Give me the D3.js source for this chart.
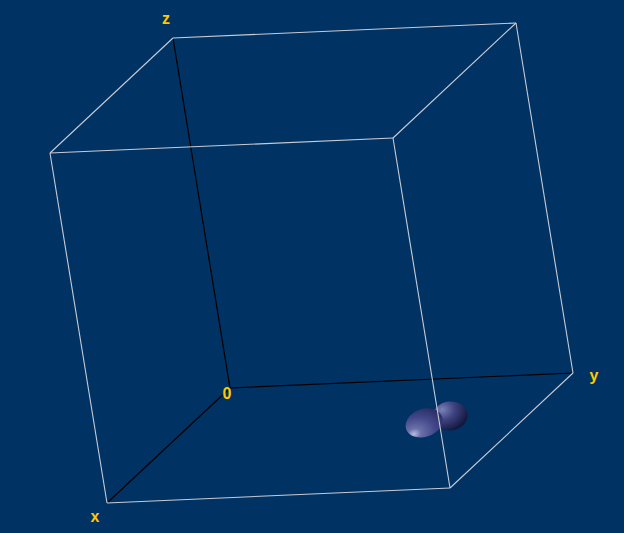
<!DOCTYPE html>
<html><head><meta charset="utf-8">
<script src="https://cdn.jsdelivr.net/npm/d3@7"></script>
<style>html,body{margin:0;padding:0;background:#003264;overflow:hidden}</style>
</head><body>
<svg id="c" width="624" height="533"></svg>
<script>
// Cube corners in data space (unit box), edges, axis labels, and the isosurface blob lobes
const corners = {
  O:[0,0,0], X:[1,0,0], Y:[0,1,0], Z:[0,0,1],
  XY:[1,1,0], XZ:[1,0,1], YZ:[0,1,1], XYZ:[1,1,1]
};
const axisEdges = [["O","X"],["O","Y"],["O","Z"]];
const boxEdges = [["X","XY"],["X","XZ"],["Y","XY"],["Y","YZ"],["Z","XZ"],["Z","YZ"],
                  ["XY","XYZ"],["XZ","XYZ"],["YZ","XYZ"]];
const axisLabels = [
  {text:"0", at:"O", dx:-3, dy:11},
  {text:"x", at:"X", dx:-12, dy:19},
  {text:"y", at:"Y", dx:21, dy:8},
  {text:"z", at:"Z", dx:-7, dy:-14}
];
// blob lobes: 3D centre, pixel radii, rotation
const blobLobes = [
  {c:[0.536,0.844,0.06], rx:17.5, ry:14.5, rot:-8, id:"gR"},
  {c:[0.557,0.774,0.05], rx:19, ry:14, rot:-20, id:"gL"}
];

const svg = d3.select("#c");
// linear projection of the unit box through d3 scales
const ox=230, oy=388;
const ex=[-123,115], ey=[343,-15], ez=[-57,-350];
const px = d3.scaleLinear().domain([0,1]).range([0,1]);
function proj(p){
  const a=px(p[0]), b=px(p[1]), c=px(p[2]);
  return [ox+a*ex[0]+b*ey[0]+c*ez[0], oy+a*ex[1]+b*ey[1]+c*ez[1]];
}

const defs = svg.append("defs");
const gl = defs.append("radialGradient").attr("id","gL").attr("cx","0.15").attr("cy","0.75").attr("r","0.95");
gl.append("stop").attr("offset","0").attr("stop-color","#b8bce2");
gl.append("stop").attr("offset","0.2").attr("stop-color","#6a70a8");
gl.append("stop").attr("offset","0.6").attr("stop-color","#42478a");
gl.append("stop").attr("offset","1").attr("stop-color","#282c60");
const gr = defs.append("radialGradient").attr("id","gR").attr("cx","0.3").attr("cy","0.25").attr("r","0.9");
gr.append("stop").attr("offset","0").attr("stop-color","#7a80b8");
gr.append("stop").attr("offset","0.4").attr("stop-color","#3e4380");
gr.append("stop").attr("offset","0.85").attr("stop-color","#151940");
gr.append("stop").attr("offset","1").attr("stop-color","#0e1234");

// axes (black, behind)
svg.append("g").selectAll("line").data(axisEdges).join("line")
  .attr("x1",d=>proj(corners[d[0]])[0]).attr("y1",d=>proj(corners[d[0]])[1])
  .attr("x2",d=>proj(corners[d[1]])[0]).attr("y2",d=>proj(corners[d[1]])[1])
  .attr("stroke","#000").attr("stroke-width",1.2);

// blob
svg.append("g").selectAll("ellipse").data(blobLobes).join("ellipse")
  .attr("cx",0).attr("cy",0).attr("rx",d=>d.rx).attr("ry",d=>d.ry)
  .attr("transform",d=>{const p=proj(d.c);return `translate(${p[0]},${p[1]}) rotate(${d.rot})`;})
  .attr("fill",d=>`url(#${d.id})`);

// box edges (light)
svg.append("g").selectAll("line").data(boxEdges).join("line")
  .attr("x1",d=>proj(corners[d[0]])[0]).attr("y1",d=>proj(corners[d[0]])[1])
  .attr("x2",d=>proj(corners[d[1]])[0]).attr("y2",d=>proj(corners[d[1]])[1])
  .attr("stroke","#c8ccd4").attr("stroke-width",1.1);

// labels
svg.append("g").selectAll("text").data(axisLabels).join("text")
  .attr("x",d=>proj(corners[d.at])[0]+d.dx).attr("y",d=>proj(corners[d.at])[1]+d.dy)
  .attr("text-anchor","middle")
  .attr("font-family","Liberation Sans, Arial, sans-serif").attr("font-size",16).attr("font-weight","bold")
  .attr("fill","#ffc800").text(d=>d.text);
</script>
</body></html>
